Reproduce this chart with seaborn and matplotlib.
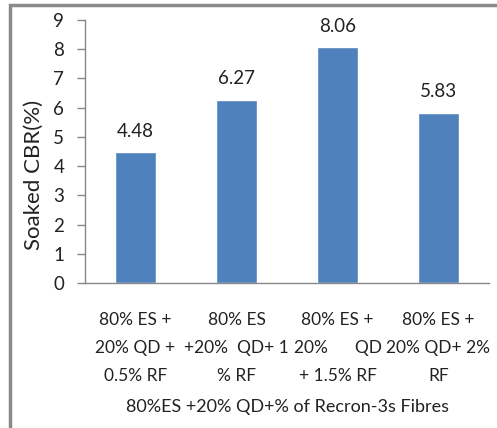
import matplotlib
matplotlib.use("Agg")
import matplotlib.pyplot as plt
from matplotlib.patches import Rectangle
import seaborn as sns
import pandas as pd

categories = [
    "80% ES +\n20% QD +\n0.5% RF",
    "80% ES\n+20%  QD+ 1\n% RF",
    "80% ES +\n20%      QD\n+ 1.5% RF",
    "80% ES +\n20% QD+ 2%\nRF",
]
cbr_values = [4.48, 6.27, 8.06, 5.83]
value_labels = ["4.48", "6.27", "8.06", "5.83"]
y_ticks = [0, 1, 2, 3, 4, 5, 6, 7, 8, 9]

sns.set_theme(style="white")
plt.rcParams["font.family"] = ["Lato", "DejaVu Sans"]

W, H = 497, 428
fig = plt.figure(figsize=(W / 100, H / 100), dpi=100)
ax = fig.add_axes([85 / W, 1 - 283 / H, (489 - 85) / W, (283 - 20) / H])

df = pd.DataFrame({"mix": categories, "cbr": cbr_values})
sns.barplot(data=df, x="mix", y="cbr", color="#4F81BD", saturation=1,
            width=0.4, ax=ax)

for i, (v, lab) in enumerate(zip(cbr_values, value_labels)):
    ax.annotate(lab, (i, v), xytext=(0, 9), textcoords="offset points",
                ha="center", va="bottom", fontsize=13.5, color="#222222")

ax.set_ylim(0, 9)
ax.set_xlim(-0.5, 3.5)
ax.set_yticks(y_ticks)
ax.set_yticklabels([str(t) for t in y_ticks], fontsize=13.5, color="#222222")
ax.set_xticks(range(len(categories)))
ax.set_xticklabels(categories, fontsize=12.5, color="#222222", linespacing=1.9)
ax.set_xticks([-0.5, 0.5, 1.5, 2.5, 3.5], minor=True)
ax.tick_params(axis="x", which="major", length=0, pad=21)
ax.tick_params(axis="x", which="minor", length=6, color="#888888", width=1)
ax.tick_params(axis="y", length=6, color="#888888", width=1, pad=9, left=True)

for s in ["top", "right"]:
    ax.spines[s].set_visible(False)
for s in ["left", "bottom"]:
    ax.spines[s].set_color("#888888")
    ax.spines[s].set_linewidth(1)

ax.set_xlabel("80%ES +20% QD+% of Recron-3s Fibres", fontsize=13, color="#222222",
              labelpad=11)
ax.set_ylabel("Soaked CBR(%)", fontsize=16, color="#222222")
ax.yaxis.set_label_coords(-0.101, 0.41)

# outer frame of the chart area
fig.patches.append(Rectangle((10 / W, -0.1), 1.2, 1 - 5 / H + 0.1,
                             transform=fig.transFigure, fill=False,
                             edgecolor="#8a8a8a", linewidth=2.5))

fig.savefig("out.png", dpi=100)
